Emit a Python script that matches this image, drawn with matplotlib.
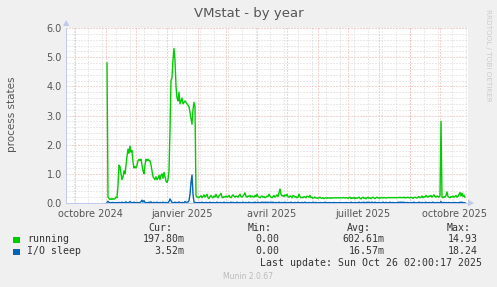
import datetime as dt
import matplotlib
matplotlib.use("Agg")
import matplotlib.pyplot as plt
from matplotlib.patches import Polygon, Rectangle

W, H = 497, 287

# ---------------- data ----------------
first_day = dt.date(2024, 11, 2)

running = [
    4.8, 0.2, 0.15, 0.12, 0.15, 0.12, 0.15, 0.13, 0.15, 0.2, 0.18,
    0.6, 1.3, 1.25, 1.0, 0.8, 0.9, 1.1, 1.0, 1.3, 1.6,
    1.85, 1.7, 1.95, 1.75, 1.8, 1.4, 1.2, 1.25, 1.2, 1.3,
    1.45, 1.5, 1.45, 1.5, 1.3, 1.1, 1.0, 1.3, 1.5, 1.45,
    1.5, 1.45, 1.45, 1.3, 1.1, 0.9, 0.85, 0.8, 0.9, 0.8,
    0.85, 0.95, 0.8, 0.95, 1.0, 0.85, 1.05, 0.9, 0.75, 0.7,
    0.8, 1.1, 2.5, 4.2, 4.3, 4.9, 5.3, 4.9, 4.0, 3.6,
    3.5, 3.8, 3.4, 3.5, 3.6, 3.4, 3.45, 3.5, 3.45, 3.4,
    3.35, 3.3, 3.1, 2.9, 2.7, 3.2, 3.45, 3.3, 0.25, 0.2,
    0.20, 0.18, 0.22, 0.25, 0.18, 0.22, 0.28, 0.20, 0.24, 0.30,
    0.18, 0.15, 0.22, 0.26, 0.20, 0.18, 0.24, 0.20, 0.30, 0.22,
    0.18, 0.24, 0.28, 0.33, 0.20, 0.18, 0.22, 0.20, 0.24, 0.20,
    0.22, 0.26, 0.20, 0.18, 0.24, 0.28, 0.22, 0.20, 0.24, 0.22,
    0.20, 0.26, 0.30, 0.22, 0.20, 0.24, 0.28, 0.35, 0.22, 0.20,
    0.24, 0.22, 0.26, 0.20, 0.24, 0.22, 0.20, 0.26, 0.22, 0.30,
    0.22, 0.20, 0.18, 0.22, 0.24, 0.20, 0.22, 0.18, 0.20, 0.24,
    0.22, 0.30, 0.24, 0.20, 0.18, 0.22, 0.26, 0.20, 0.24, 0.28,
    0.22, 0.35, 0.48, 0.30, 0.24, 0.26, 0.22, 0.28, 0.24, 0.30,
    0.22, 0.20, 0.24, 0.22, 0.18, 0.26, 0.24, 0.20, 0.22, 0.18,
    0.20, 0.30, 0.22, 0.18, 0.20, 0.18, 0.22, 0.20, 0.18, 0.24,
    0.22, 0.20, 0.26, 0.18, 0.20, 0.16, 0.18, 0.20, 0.17, 0.18,
    0.16, 0.18, 0.20, 0.17, 0.16, 0.18, 0.15, 0.17, 0.18, 0.16,
    0.18, 0.17, 0.18, 0.16, 0.18, 0.17, 0.18, 0.18, 0.17, 0.18,
    0.18, 0.17, 0.18, 0.18, 0.17, 0.19, 0.18, 0.17, 0.18, 0.18,
    0.16, 0.18, 0.20, 0.15, 0.18, 0.16, 0.19, 0.15, 0.18, 0.16,
    0.18, 0.20, 0.16, 0.14, 0.18, 0.20, 0.16, 0.18, 0.14, 0.18,
    0.20, 0.16, 0.18, 0.15, 0.18, 0.20, 0.17, 0.15, 0.18, 0.20,
    0.17, 0.18, 0.16, 0.19, 0.18, 0.17, 0.19, 0.18, 0.17, 0.18,
    0.18, 0.19, 0.18, 0.18, 0.19, 0.18, 0.18, 0.19, 0.18, 0.18,
    0.19, 0.18, 0.20, 0.18, 0.19, 0.18, 0.20, 0.17, 0.19, 0.18,
    0.20, 0.18, 0.17, 0.20, 0.18, 0.16, 0.19, 0.20, 0.18, 0.17,
    0.20, 0.22, 0.18, 0.20, 0.24, 0.18, 0.22, 0.20, 0.26, 0.22,
    0.20, 0.24, 0.22, 0.26, 0.20, 0.24, 0.28, 0.22, 0.20, 0.24,
    0.22, 0.20, 0.25, 2.80, 0.20, 0.18, 0.22, 0.20, 0.26, 0.38,
    0.22, 0.20, 0.18, 0.22, 0.20, 0.24, 0.20, 0.22, 0.26, 0.20,
    0.22, 0.30, 0.36, 0.24, 0.34, 0.22, 0.26, 0.20,
]

io_sleep = [
    0.02, 0.06, 0.02, 0.01, 0.01, 0.01, 0.02, 0.01, 0.01, 0.01, 0.01,
    0.01, 0.02, 0.01, 0.01, 0.03, 0.01, 0.01, 0.02, 0.04, 0.01,
    0.01, 0.02, 0.05, 0.02, 0.01, 0.01, 0.03, 0.01, 0.01, 0.02,
    0.01, 0.01, 0.02, 0.04, 0.10, 0.03, 0.08, 0.02, 0.01, 0.01,
    0.01, 0.03, 0.01, 0.04, 0.01, 0.01, 0.02, 0.01, 0.01, 0.03,
    0.01, 0.01, 0.02, 0.01, 0.01, 0.03, 0.01, 0.01, 0.02, 0.01,
    0.01, 0.05, 0.14, 0.08, 0.02, 0.01, 0.01, 0.03, 0.01, 0.02,
    0.01, 0.04, 0.01, 0.01, 0.02, 0.01, 0.01, 0.05, 0.02, 0.03,
    0.03, 0.08, 0.30, 0.70, 0.96, 0.30, 0.03, 0.01, 0.02, 0.01,
    0.01, 0.02, 0.01, 0.01, 0.03, 0.01, 0.01, 0.01, 0.02, 0.01,
    0.01, 0.01, 0.03, 0.01, 0.01, 0.02, 0.01, 0.01, 0.01, 0.03,
    0.01, 0.01, 0.02, 0.01, 0.01, 0.01, 0.03, 0.01, 0.01, 0.02,
    0.01, 0.01, 0.01, 0.03, 0.01, 0.02, 0.01, 0.01, 0.01, 0.03,
    0.01, 0.01, 0.02, 0.01, 0.01, 0.03, 0.01, 0.01, 0.02, 0.01,
    0.01, 0.03, 0.01, 0.01, 0.01, 0.02, 0.01, 0.03, 0.01, 0.01,
    0.03, 0.01, 0.01, 0.02, 0.03, 0.01, 0.03, 0.01, 0.03, 0.01,
    0.03, 0.01, 0.02, 0.03, 0.01, 0.03, 0.01, 0.01, 0.02, 0.01,
    0.01, 0.03, 0.01, 0.01, 0.02, 0.01, 0.01, 0.03, 0.01, 0.01,
    0.02, 0.01, 0.01, 0.03, 0.01, 0.01, 0.01, 0.02, 0.01, 0.01,
    0.03, 0.01, 0.01, 0.01, 0.02, 0.01, 0.01, 0.03, 0.01, 0.01,
    0.01, 0.02, 0.01, 0.01, 0.01, 0.03, 0.01, 0.01, 0.02, 0.01,
    0.01, 0.01, 0.02, 0.01, 0.01, 0.01, 0.01, 0.03, 0.01, 0.01,
    0.01, 0.02, 0.01, 0.01, 0.01, 0.01, 0.02, 0.01, 0.01, 0.01,
    0.01, 0.01, 0.02, 0.01, 0.01, 0.01, 0.01, 0.01, 0.02, 0.01,
    0.01, 0.01, 0.01, 0.03, 0.01, 0.01, 0.01, 0.02, 0.01, 0.01,
    0.01, 0.03, 0.01, 0.01, 0.02, 0.01, 0.03, 0.01, 0.01, 0.03,
    0.01, 0.03, 0.01, 0.02, 0.03, 0.01, 0.01, 0.03, 0.01, 0.01,
    0.01, 0.02, 0.01, 0.01, 0.01, 0.03, 0.01, 0.01, 0.02, 0.01,
    0.01, 0.01, 0.03, 0.01, 0.01, 0.02, 0.01, 0.01, 0.01, 0.01,
    0.03, 0.01, 0.03, 0.02, 0.03, 0.01, 0.03, 0.01, 0.01, 0.02,
    0.01, 0.01, 0.01, 0.02, 0.01, 0.01, 0.03, 0.01, 0.01, 0.01,
    0.01, 0.03, 0.01, 0.01, 0.02, 0.01, 0.01, 0.01, 0.03, 0.01,
    0.01, 0.02, 0.01, 0.01, 0.01, 0.03, 0.01, 0.01, 0.01, 0.02,
    0.01, 0.01, 0.01, 0.05, 0.01, 0.01, 0.02, 0.01, 0.01, 0.01,
    0.01, 0.02, 0.01, 0.01, 0.01, 0.01, 0.02, 0.01, 0.01, 0.01,
    0.01, 0.01, 0.03, 0.01, 0.03, 0.01, 0.01, 0.01,
]

x_tick_dates = ["2024-10-16", "2025-01-16", "2025-04-16", "2025-07-16", "2025-10-16"]
x_tick_labels = ["octobre 2024", "janvier 2025", "avril 2025", "juillet 2025", "octobre 2025"]
y_ticks = [0, 1, 2, 3, 4, 5, 6]
y_tick_labels = ["0.0", "1.0", "2.0", "3.0", "4.0", "5.0", "6.0"]

series_names = ["running", "I/O sleep"]
series_colors = ["#00CC00", "#0066B3"]
cur_vals = ["197.80m", "3.52m"]
min_vals = ["0.00", "0.00"]
avg_vals = ["602.61m", "16.57m"]
max_vals = ["14.93", "18.24"]

title = "VMstat - by year"
y_label = "process states"
last_update = "Last update: Sun Oct 26 02:00:17 2025"
footer = "Munin 2.0.67"
side_text = "RRDTOOL / TOBI OETIKER"

# ---------------- figure ----------------
fig = plt.figure(figsize=(W / 100, H / 100), dpi=100, facecolor="#F0F0F0")

def fx(px):
    return px / W

def fy(py):
    return 1 - py / H

left_px, right_px, top_px, bot_px = 66, 468, 28, 203
ax = fig.add_axes([fx(left_px), fy(bot_px), (right_px - left_px) / W, (bot_px - top_px) / H])
ax.set_facecolor("white")

x0 = dt.datetime(2024, 9, 22)
x1 = x0 + dt.timedelta(days=right_px - left_px)
ax.set_xlim(x0, x1)
ax.set_ylim(0, 6)

px = 0.72  # one pixel in points
minor_col = "#D6D6D6"
major_col = "#EBA8A8"

# minor vertical grid (every two weeks)
d = dt.datetime(2024, 9, 30)
while d < x1:
    ax.axvline(d, color=minor_col, lw=px, ls=(0, (1, 2)), zorder=1)
    d += dt.timedelta(days=14)
# minor horizontal grid
for k in range(1, 30):
    if k % 5:
        ax.axhline(k * 0.2, color=minor_col, lw=px, ls=(0, (1, 2)), zorder=1)
# major vertical grid at month starts
y, m = 2024, 10
while True:
    dd = dt.datetime(y, m, 1)
    if dd > x1:
        break
    ax.axvline(dd, color=major_col, lw=px, ls=(0, (1, 2)), zorder=1.5)
    m += 1
    if m > 12:
        m = 1
        y += 1
for v in y_ticks[1:]:
    ax.axhline(v, color=major_col, lw=px, ls=(0, (1, 2)), zorder=1.5)

dates = [dt.datetime.combine(first_day, dt.time()) + dt.timedelta(days=i) for i in range(len(running))]
dates_io = [dt.datetime.combine(first_day, dt.time()) + dt.timedelta(days=i) for i in range(len(io_sleep))]
ax.plot(dates, running, color=series_colors[0], lw=1.0, zorder=3, solid_joinstyle="round")
ax.plot(dates_io, io_sleep, color=series_colors[1], lw=1.0, zorder=3.2, solid_joinstyle="round")

tick_col = "#555555"
ax.set_xticks([dt.datetime.fromisoformat(s) for s in x_tick_dates])
ax.set_xticklabels(x_tick_labels, fontsize=7, color=tick_col)
ax.set_yticks(y_ticks)
ax.set_yticklabels(y_tick_labels, fontsize=7, color=tick_col)
ax.tick_params(axis="both", length=0, pad=3)
ax.tick_params(axis="x", pad=4)

for s in ["top", "right"]:
    ax.spines[s].set_visible(False)
axis_col = "#C3C8EE"
for s in ["left", "bottom"]:
    ax.spines[s].set_color(axis_col)
    ax.spines[s].set_linewidth(px)
    ax.spines[s].set_zorder(2)

# axis arrows
fig.add_artist(Polygon([(fx(63), fy(26)), (fx(69.5), fy(26)), (fx(66.2), fy(20))],
                       closed=True, facecolor=axis_col, edgecolor="none", transform=fig.transFigure))
fig.add_artist(Polygon([(fx(468), fy(199.5)), (fx(468), fy(206.5)), (fx(474), fy(203))],
                       closed=True, facecolor=axis_col, edgecolor="none", transform=fig.transFigure))

# title and labels
fig.text(fx(249), fy(14), title, ha="center", va="center", fontsize=9.5, color="#555555")
fig.text(fx(12), fy(114), y_label, ha="center", va="center", rotation=90, fontsize=7.5, color="#555555")
fig.text(fx(488), fy(55), side_text, ha="center", va="center", rotation=-90, fontsize=5.2, color="#CCCCCC")

# legend
mono = "DejaVu Sans Mono"
lfs = 7.1
lcol = "#333333"
fig.text(fx(172), fy(228), "Cur:", ha="right", va="center", family=mono, fontsize=lfs, color=lcol)
fig.text(fx(272), fy(228), "Min:", ha="right", va="center", family=mono, fontsize=lfs, color=lcol)
fig.text(fx(371), fy(228), "Avg:", ha="right", va="center", family=mono, fontsize=lfs, color=lcol)
fig.text(fx(471), fy(228), "Max:", ha="right", va="center", family=mono, fontsize=lfs, color=lcol)

row_y = [239.5, 251.5]
for i, name in enumerate(series_names):
    yy = row_y[i]
    fig.add_artist(Rectangle((fx(13.3), fy(yy + 3)), 6.7 / W, 6 / H, facecolor=series_colors[i],
                             edgecolor="none", transform=fig.transFigure))
    fig.text(fx(27), fy(yy), name, ha="left", va="center", family=mono, fontsize=lfs, color=lcol)
    fig.text(fx(184.5), fy(yy), cur_vals[i], ha="right", va="center", family=mono, fontsize=lfs, color=lcol)
    fig.text(fx(279), fy(yy), min_vals[i], ha="right", va="center", family=mono, fontsize=lfs, color=lcol)
    fig.text(fx(384.5), fy(yy), avg_vals[i], ha="right", va="center", family=mono, fontsize=lfs, color=lcol)
    fig.text(fx(477.5), fy(yy), max_vals[i], ha="right", va="center", family=mono, fontsize=lfs, color=lcol)

fig.text(fx(482.5), fy(263.5), last_update, ha="right", va="center", family=mono, fontsize=lfs, color=lcol)
fig.text(fx(248), fy(276.5), footer, ha="center", va="center", fontsize=5.5, color="#BBBBBB")

fig.savefig("out.png", dpi=100, facecolor=fig.get_facecolor())
